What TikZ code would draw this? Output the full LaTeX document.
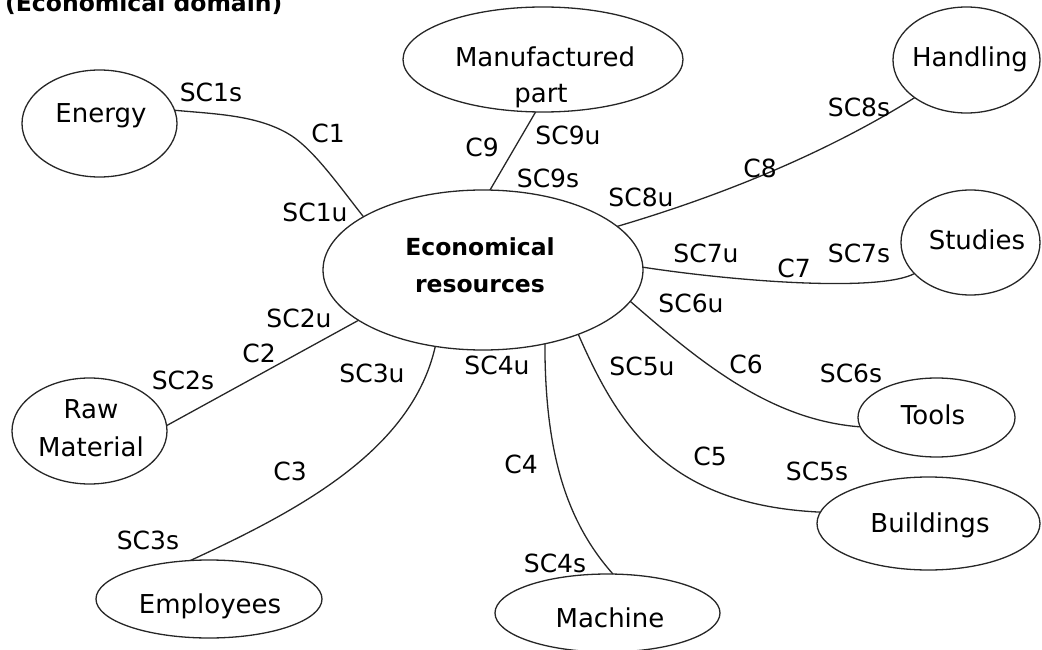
\documentclass[tikz,border=0pt]{standalone}
\usepackage{fontspec}
\setmainfont{DejaVu Sans}
\usetikzlibrary{shapes.geometric}
\begin{document}
\begin{tikzpicture}[x=1pt,y=-1pt,
  blob/.style={draw=black!85, ellipse, inner sep=0pt, outer sep=0pt, line width=1.3pt},
  txt/.style={inner sep=0pt, anchor=base, font=\fontsize{26}{30}\selectfont},
  btxt/.style={inner sep=0pt, anchor=base, font=\bfseries\fontsize{23.5}{30}\selectfont},
  lbl/.style={inner sep=0pt, anchor=base, font=\fontsize{25}{30}\selectfont},
  conn/.style={draw=black!85, line width=1.3pt}]
\useasboundingbox (0,0) rectangle (1042,650);

% title (cut off at the top edge, as in the reference)
\node[btxt, anchor=base west] (title) at (5,12) {(Economical domain)};

% ellipses
\node[blob, minimum width=320pt, minimum height=160pt] (res) at (483,270) {};
\node[blob, minimum width=155pt, minimum height=107pt] (energy) at (99.5,123.5) {};
\node[blob, minimum width=280pt, minimum height=105pt] (mp) at (543,59.5) {};
\node[blob, minimum width=147pt, minimum height=106pt] (handling) at (966.5,60) {};
\node[blob, minimum width=139pt, minimum height=105pt] (studies) at (970.5,242.5) {};
\node[blob, minimum width=157pt, minimum height=79pt] (tools) at (936.5,417.5) {};
\node[blob, minimum width=223pt, minimum height=93pt] (buildings) at (928.5,523.5) {};
\node[blob, minimum width=225pt, minimum height=78pt] (machine) at (607.5,613) {};
\node[blob, minimum width=226pt, minimum height=78pt] (employees) at (209,599) {};
\node[blob, minimum width=155pt, minimum height=106pt] (raw) at (89.5,431) {};

% texts in ellipses
\node[btxt] (rest1) at (480,255) {Economical};
\node[btxt] (rest2) at (480,292) {resources};
\node[txt] (energyt) at (101,123) {Energy};
\node[txt] (mpt1) at (545,67) {Manufactured};
\node[txt] (mpt2) at (541,103) {part};
\node[txt] (handlingt) at (970,67) {Handling};
\node[txt] (studiest) at (977,249) {Studies};
\node[txt] (toolst) at (933,424) {Tools};
\node[txt] (buildingst) at (930,532) {Buildings};
\node[txt] (machinet) at (610,627) {Machine};
\node[txt] (employeest) at (210,613) {Employees};
\node[txt] (rawt1) at (91,418) {Raw};
\node[txt] (rawt2) at (91,456) {Material};

% connectors
\draw[conn] (energy.10.9) .. controls (215,114) and (255,115) .. (287,133)
            .. controls (312,147) and (338,184.5) .. (res.156.2);
\draw[conn] (mp.-98.7) -- (res.85);
\draw[conn] (res.18.6) .. controls (717,197) and (823,155) .. (handling.216.8);
\draw[conn] (res.1.1) .. controls (740,282) and (880,292) .. (studies.209.5);
\draw[conn] (res.-12.65) .. controls (700,362) and (770,420) .. (tools.187.8);
\draw[conn] (res.-34.95) .. controls (620,430) and (670,505) .. (buildings.174.6);
\draw[conn] (res.-50.96) .. controls (545,450) and (565,520) .. (machine.82);
\draw[conn] (res.238.4) .. controls (412,450) and (300,510) .. (employees.116);
\draw[conn] (res.202.6) -- (raw.4.4);

% labels
\node[lbl] (l1s) at (211,102) {SC1s};
\node[lbl] (l1) at (328,143) {C1};
\node[lbl] (l1u) at (315,222) {SC1u};
\node[lbl] (l9) at (482,157) {C9};
\node[lbl] (l9u) at (568,145) {SC9u};
\node[lbl] (l9s) at (548,187) {SC9s};
\node[lbl] (l8u) at (641,206) {SC8u};
\node[lbl] (l8) at (760,178) {C8};
\node[lbl] (l8s) at (859,117) {SC8s};
\node[lbl] (l7u) at (706,262) {SC7u};
\node[lbl] (l7) at (794,277) {C7};
\node[lbl] (l7s) at (859,262) {SC7s};
\node[lbl] (l6u) at (691,312) {SC6u};
\node[lbl] (l6) at (746,373) {C6};
\node[lbl] (l6s) at (851,382) {SC6s};
\node[lbl] (l5u) at (642,375) {SC5u};
\node[lbl] (l5) at (710,465) {C5};
\node[lbl] (l5s) at (817,480) {SC5s};
\node[lbl] (l4u) at (497,374) {SC4u};
\node[lbl] (l4) at (521,473) {C4};
\node[lbl] (l4s) at (555,572) {SC4s};
\node[lbl] (l2u) at (299,327) {SC2u};
\node[lbl] (l2) at (259,362) {C2};
\node[lbl] (l2s) at (183,389) {SC2s};
\node[lbl] (l3u) at (372,382) {SC3u};
\node[lbl] (l3) at (290,480) {C3};
\node[lbl] (l3s) at (148,549) {SC3s};
\end{tikzpicture}
\end{document}
